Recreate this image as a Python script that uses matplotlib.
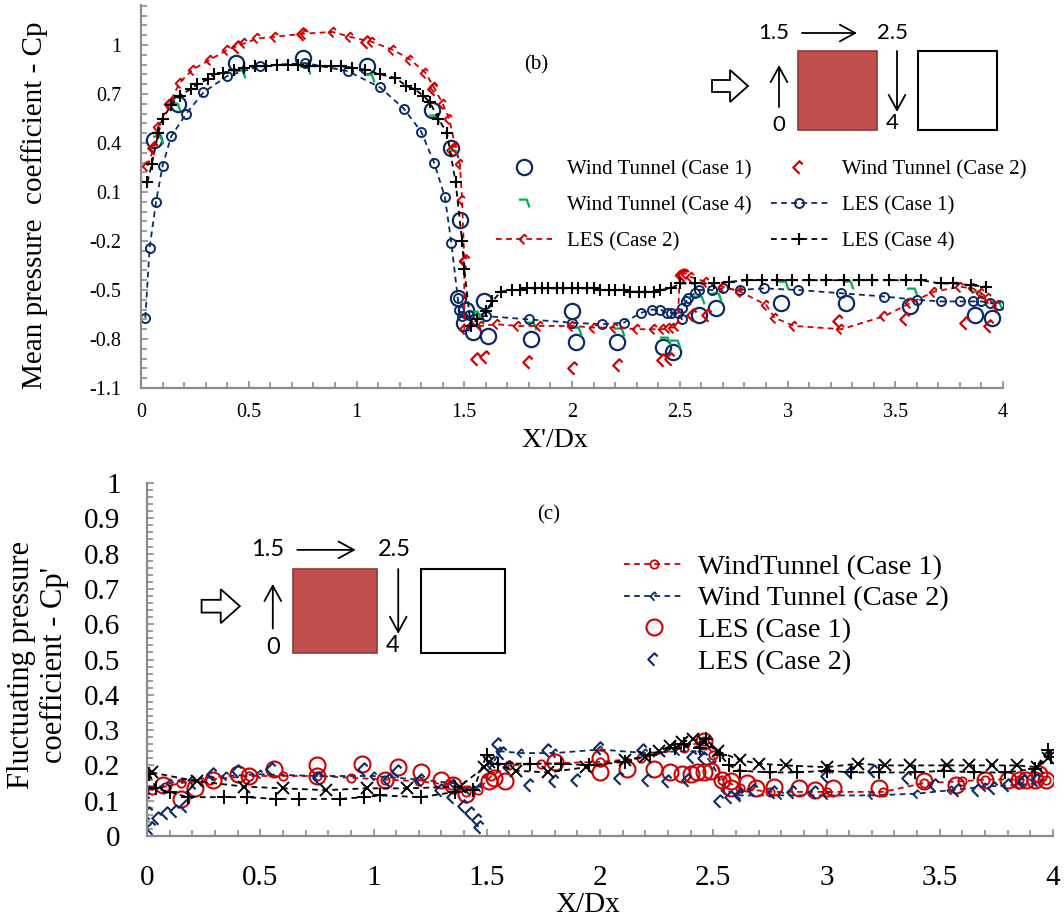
import numpy as np
import matplotlib.pyplot as plt
from matplotlib.path import Path
from matplotlib.transforms import Affine2D
from matplotlib.patches import Rectangle, Polygon, FancyArrowPatch
from matplotlib.ticker import FixedLocator, MultipleLocator, FuncFormatter

plt.rcParams['font.family'] = ['Liberation Serif', 'DejaVu Serif']
plt.rcParams['axes.unicode_minus'] = False

# ---- (b) mean Cp ----
wt1_x = [0.06, 0.17, 0.44, 0.75, 1.05, 1.35, 1.44, 1.47, 1.48, 1.50, 1.51, 1.54, 1.59, 1.61, 1.81,
         2.00, 2.02, 2.21, 2.42, 2.47, 2.59, 2.67, 2.97, 3.27, 3.57, 3.87, 3.95]
wt1_y = [0.42, 0.64, 0.89, 0.92, 0.87, 0.60, 0.37, -0.55, -0.07, -0.70, -0.62, -0.76, -0.57, -0.78, -0.80,
         -0.63, -0.82, -0.82, -0.85, -0.88, -0.65, -0.61, -0.58, -0.58, -0.60, -0.65, -0.67]

wt2_x = [0.06, 0.14, 0.45, 0.75, 1.05, 1.36, 1.45, 1.51, 1.56, 1.60, 1.80, 2.01, 2.22, 2.42, 2.46,
         2.52, 2.56, 2.63, 3.24, 3.55, 3.83, 3.94]
wt2_y = [0.37, 0.64, 0.99, 1.07, 1.02, 0.73, 0.36, -0.32, -0.92, -0.91, -0.94, -0.98, -0.96, -0.93, -0.92,
         -0.41, -0.65, -0.65, -0.69, -0.68, -0.70, -0.72]

wt4_x = [0.08, 0.16, 0.46, 0.76, 1.06, 1.36, 1.45, 1.55, 1.57, 1.81, 2.02, 2.22, 2.43, 2.48, 2.59,
         2.67, 2.98, 3.28, 3.58, 3.88, 3.97]
wt4_y = [0.42, 0.62, 0.82, 0.85, 0.80, 0.55, 0.33, -0.65, -0.67, -0.72, -0.75, -0.76, -0.81, -0.83, -0.56,
         -0.54, -0.47, -0.47, -0.51, -0.53, -0.60]

les1_x = [0.02, 0.04, 0.07, 0.10, 0.14, 0.21, 0.29, 0.40, 0.55, 0.76, 0.96, 1.11, 1.22, 1.30, 1.36,
          1.41, 1.44, 1.47, 1.475, 1.49, 1.52, 1.60, 1.80, 2.00, 2.14, 2.24, 2.32, 2.37, 2.41, 2.44,
          2.46, 2.49, 2.51, 2.51, 2.53, 2.54, 2.57, 2.59, 2.65, 2.70, 2.78, 2.89, 3.05, 3.25, 3.45,
          3.60, 3.71, 3.80, 3.86, 3.90, 3.94, 3.98]
les1_y = [-0.67, -0.24, 0.04, 0.26, 0.44, 0.58, 0.71, 0.81, 0.87, 0.89, 0.84, 0.74, 0.61, 0.47, 0.28,
          0.07, -0.21, -0.55, -0.62, -0.66, -0.65, -0.66, -0.68, -0.70, -0.71, -0.70, -0.64, -0.62, -0.62, -0.64,
          -0.64, -0.64, -0.68, -0.61, -0.57, -0.55, -0.52, -0.50, -0.50, -0.49, -0.50, -0.49, -0.50, -0.52, -0.54,
          -0.56, -0.57, -0.57, -0.57, -0.57, -0.58, -0.59]

les2_x = [0.03, 0.06, 0.08, 0.13, 0.18, 0.24, 0.32, 0.40, 0.48, 0.54, 0.62, 0.76, 0.89, 0.97, 1.07,
          1.17, 1.25, 1.32, 1.36, 1.40, 1.43, 1.46, 1.48, 1.49, 1.50, 1.50, 1.53, 1.58, 1.65, 1.75,
          1.85, 2.00, 2.10, 2.20, 2.30, 2.38, 2.42, 2.45, 2.47, 2.49, 2.50, 2.51, 2.53, 2.55, 2.62,
          2.70, 2.78, 2.90, 2.94, 3.03, 3.25, 3.45, 3.57, 3.68, 3.80, 3.86, 3.90, 3.93, 3.97]
les2_y = [0.26, 0.37, 0.50, 0.64, 0.77, 0.85, 0.91, 0.97, 1.01, 1.04, 1.05, 1.07, 1.08, 1.05, 1.02,
          0.97, 0.91, 0.83, 0.74, 0.64, 0.55, 0.37, 0.27, 0.05, -0.32, -0.74, -0.72, -0.72, -0.71, -0.72,
          -0.72, -0.72, -0.73, -0.73, -0.74, -0.74, -0.74, -0.73, -0.73, -0.72, -0.41, -0.40, -0.40, -0.42, -0.45,
          -0.48, -0.51, -0.59, -0.67, -0.72, -0.74, -0.66, -0.58, -0.51, -0.48, -0.49, -0.52, -0.55, -0.60]

les4_x = [0.03, 0.05, 0.08, 0.10, 0.14, 0.18, 0.23, 0.26, 0.31, 0.34, 0.38, 0.43, 0.48, 0.53, 0.58,
          0.63, 0.68, 0.73, 0.78, 0.83, 0.88, 0.93, 0.98, 1.04, 1.11, 1.18, 1.23, 1.27, 1.31, 1.34,
          1.38, 1.42, 1.46, 1.49, 1.50, 1.53, 1.56, 1.60, 1.63, 1.67, 1.72, 1.76, 1.79, 1.83, 1.86,
          1.89, 1.93, 1.96, 2.00, 2.03, 2.07, 2.10, 2.13, 2.17, 2.20, 2.24, 2.27, 2.31, 2.34, 2.38,
          2.41, 2.46, 2.50, 2.57, 2.66, 2.73, 2.81, 2.88, 2.95, 3.02, 3.10, 3.18, 3.26, 3.33, 3.39,
          3.47, 3.55, 3.62, 3.71, 3.77, 3.85, 3.92]
les4_y = [0.16, 0.27, 0.46, 0.55, 0.63, 0.69, 0.73, 0.76, 0.79, 0.82, 0.83, 0.85, 0.86, 0.87, 0.87,
          0.88, 0.88, 0.88, 0.87, 0.87, 0.87, 0.87, 0.86, 0.85, 0.82, 0.80, 0.75, 0.73, 0.69, 0.65,
          0.55, 0.46, 0.16, -0.20, -0.37, -0.72, -0.68, -0.63, -0.57, -0.51, -0.50, -0.50, -0.49, -0.49, -0.49,
          -0.49, -0.49, -0.49, -0.49, -0.49, -0.49, -0.49, -0.50, -0.50, -0.50, -0.50, -0.51, -0.51, -0.51, -0.51,
          -0.50, -0.49, -0.46, -0.46, -0.46, -0.45, -0.44, -0.44, -0.44, -0.44, -0.44, -0.44, -0.44, -0.44, -0.44,
          -0.44, -0.44, -0.44, -0.46, -0.46, -0.47, -0.48]

# ---- (c) fluctuating Cp' ----
wtc1_x = [0.02, 0.08, 0.15, 0.28, 0.45, 0.60, 0.75, 0.90, 1.05, 1.20, 1.34, 1.41, 1.46, 1.52, 1.60,
          1.74, 2.00, 2.18, 2.37, 2.46, 2.50, 2.54, 2.62, 2.75, 3.00, 3.25, 3.43, 3.60, 3.70, 3.85, 3.97]
wtc1_y = [0.13, 0.14, 0.15, 0.16, 0.17, 0.17, 0.17, 0.165, 0.16, 0.155, 0.145, 0.125, 0.13, 0.17, 0.20,
          0.205, 0.21, 0.22, 0.25, 0.27, 0.23, 0.16, 0.135, 0.125, 0.125, 0.125, 0.15, 0.155, 0.16, 0.16, 0.16]

wtc2_x = [0.01, 0.10, 0.20, 0.35, 0.50, 0.75, 1.00, 1.20, 1.35, 1.42, 1.47, 1.52, 1.56, 1.65, 1.80,
          2.00, 2.20, 2.35, 2.45, 2.50, 2.55, 2.62, 2.80, 3.00, 3.20, 3.40, 3.55, 3.70, 3.85, 3.95]
wtc2_y = [0.13, 0.15, 0.16, 0.17, 0.175, 0.17, 0.17, 0.16, 0.15, 0.13, 0.14, 0.20, 0.24, 0.235, 0.235,
          0.245, 0.235, 0.24, 0.24, 0.20, 0.13, 0.115, 0.115, 0.115, 0.115, 0.12, 0.13, 0.14, 0.145, 0.15]

lesc1_x = [0.07, 0.15, 0.21, 0.29, 0.40, 0.45, 0.56, 0.75, 0.75, 0.95, 1.05, 1.11, 1.21, 1.30, 1.35,
           1.41, 1.51, 1.53, 1.58, 1.80, 2.00, 2.00, 2.12, 2.24, 2.31, 2.36, 2.40, 2.43, 2.46, 2.49,
           2.46, 2.54, 2.58, 2.58, 2.65, 2.69, 2.77, 2.88, 2.95, 3.03, 3.23, 3.43, 3.57, 3.70, 3.80,
           3.85, 3.88, 3.92, 3.94, 3.97]
lesc1_y = [0.145, 0.105, 0.135, 0.16, 0.175, 0.17, 0.19, 0.20, 0.17, 0.205, 0.16, 0.195, 0.18, 0.16, 0.145,
           0.12, 0.155, 0.165, 0.155, 0.21, 0.22, 0.18, 0.19, 0.19, 0.18, 0.175, 0.175, 0.18, 0.18, 0.185,
           0.27, 0.16, 0.155, 0.135, 0.15, 0.135, 0.14, 0.135, 0.13, 0.135, 0.135, 0.155, 0.145, 0.16, 0.16,
           0.16, 0.16, 0.16, 0.175, 0.16]

lesc2_x = [0.01, 0.01, 0.02, 0.05, 0.09, 0.13, 0.17, 0.20, 0.29, 0.40, 0.55, 0.76, 0.96, 1.07, 1.11,
           1.21, 1.30, 1.35, 1.40, 1.43, 1.46, 1.47, 1.55, 1.57, 1.60, 1.69, 1.77, 1.80, 1.90, 2.00,
           2.09, 2.19, 2.21, 2.30, 2.39, 2.41, 2.46, 2.53, 2.58, 2.62, 2.68, 2.77, 2.85, 2.95, 3.00,
           3.11, 3.21, 3.36, 3.48, 3.58, 3.67, 3.74, 3.80, 3.87, 3.93]
lesc2_y = [0.125, 0.065, 0.022, 0.05, 0.065, 0.07, 0.085, 0.125, 0.175, 0.185, 0.19, 0.165, 0.19, 0.16, 0.185,
           0.16, 0.13, 0.11, 0.085, 0.065, 0.045, 0.025, 0.26, 0.235, 0.195, 0.145, 0.245, 0.155, 0.16, 0.25,
           0.165, 0.245, 0.16, 0.155, 0.16, 0.225, 0.22, 0.10, 0.11, 0.115, 0.13, 0.125, 0.125, 0.125, 0.17,
           0.18, 0.185, 0.165, 0.145, 0.13, 0.13, 0.135, 0.145, 0.155, 0.16]

plus_x = [0.01, 0.04, 0.10, 0.18, 0.34, 0.44, 0.57, 0.67, 0.85, 0.96, 1.03, 1.21, 1.36, 1.44, 1.50,
          1.55, 1.69, 1.83, 1.95, 2.11, 2.22, 2.33, 2.37, 2.44, 2.47, 2.53, 2.57, 2.62, 2.75, 2.87,
          3.00, 3.11, 3.23, 3.39, 3.52, 3.65, 3.79, 3.92, 3.98, 3.99]
plus_y = [0.175, 0.135, 0.125, 0.11, 0.11, 0.11, 0.105, 0.105, 0.105, 0.11, 0.115, 0.11, 0.125, 0.13, 0.23,
          0.205, 0.205, 0.205, 0.20, 0.21, 0.23, 0.25, 0.26, 0.25, 0.275, 0.23, 0.20, 0.185, 0.18, 0.18,
          0.185, 0.18, 0.18, 0.18, 0.185, 0.18, 0.18, 0.19, 0.245, 0.225]

cross_x = [0.02, 0.22, 0.43, 0.60, 0.79, 0.97, 1.15, 1.38, 1.49, 1.51, 1.63, 1.77, 1.94, 2.11, 2.20,
           2.26, 2.31, 2.36, 2.41, 2.46, 2.52, 2.62, 2.70, 2.82, 3.00, 3.14, 3.26, 3.37, 3.53, 3.63,
           3.73, 3.84, 3.93, 3.98]
cross_y = [0.18, 0.155, 0.14, 0.135, 0.13, 0.135, 0.135, 0.14, 0.195, 0.21, 0.185, 0.18, 0.195, 0.215, 0.225,
           0.24, 0.255, 0.265, 0.275, 0.265, 0.24, 0.215, 0.205, 0.20, 0.195, 0.205, 0.20, 0.20, 0.20, 0.20,
           0.20, 0.20, 0.195, 0.22]

cp_ticks = [-1.1, -0.8, -0.5, -0.2, 0.1, 0.4, 0.7, 1.0]
x_ticks = [0, 0.5, 1, 1.5, 2, 2.5, 3, 3.5, 4]
cpf_ticks = [0, 0.1, 0.2, 0.3, 0.4, 0.5, 0.6, 0.7, 0.8, 0.9, 1.0]

W, H = 1064, 919
NAVY = '#0A2A6B'
RED = '#D00000'
GREEN = '#00B050'
GRAY = '#8C8C8C'
DASH = (0, (3.2, 2.4))

hook = Path([(-1, -1), (-1, 1), (1, 1), (1, 0)],
            [Path.MOVETO, Path.LINETO, Path.LINETO, Path.LINETO]).transformed(Affine2D().rotate_deg(45))
gmark = Path([(-1, 0.7), (0.4, 0.7), (0.9, -0.7)], [Path.MOVETO, Path.LINETO, Path.LINETO])


def rect(l, t, r, b):
    return [l / W, 1 - b / H, (r - l) / W, (b - t) / H]


def fmt(v, pos):
    return '%g' % v


def style(ax, fs, ypad, xpad):
    for s in ['top', 'right']:
        ax.spines[s].set_visible(False)
    for s in ['left', 'bottom']:
        ax.spines[s].set_color(GRAY)
        ax.spines[s].set_linewidth(1.6)
    ax.tick_params(which='both', direction='in', color=GRAY, width=1.2)
    ax.tick_params(which='major', length=5)
    ax.tick_params(which='minor', length=4)
    ax.tick_params(axis='y', labelsize=fs[0], pad=ypad)
    ax.tick_params(axis='x', labelsize=fs[1], pad=xpad)
    ax.xaxis.set_major_formatter(FuncFormatter(fmt))
    ax.yaxis.set_major_formatter(FuncFormatter(fmt))


fig = plt.figure(figsize=(W / 100, H / 100), dpi=100)

# ---------- panel (b) ----------
ax1 = fig.add_axes(rect(141, 5, 1003, 388))
mk = dict(ls='none', mfc='none')
ax1.plot(wt1_x, wt1_y, marker='o', ms=11, mec=NAVY, mew=1.6, label='Wind Tunnel (Case 1)', **mk)
ax1.plot(wt2_x, wt2_y, marker=hook, ms=9, mec=RED, mew=1.6, label='Wind Tunnel (Case 2)', **mk)
ax1.plot(wt4_x, wt4_y, marker=gmark, ms=8, mec=GREEN, mew=1.6, label='Wind Tunnel (Case 4)', **mk)
ax1.plot(les1_x, les1_y, color=NAVY, ls=DASH, lw=1.3, marker='o', ms=6.5, mfc='none', mec=NAVY, mew=1.4,
         label='LES (Case 1)')
ax1.plot(les2_x, les2_y, color=RED, ls=DASH, lw=1.3, marker=hook, ms=7, mfc='none', mec=RED, mew=1.4,
         label='LES (Case 2)')
ax1.plot(les4_x, les4_y, color='black', ls=DASH, lw=1.3, marker='+', ms=9, mew=1.5,
         label='LES (Case 4)')
ax1.set_xlim(0, 4)
ax1.set_ylim(-1.1, 1.245)
ax1.set_xticks(x_ticks)
ax1.yaxis.set_major_locator(FixedLocator(cp_ticks))
ax1.yaxis.set_minor_locator(FixedLocator(np.arange(-1.1, 1.25, 0.06)))
ax1.xaxis.set_minor_locator(MultipleLocator(0.1))
style(ax1, (14.5, 14.5), 14, 11)
ax1.text(0.458, 0.843, '(b)', transform=ax1.transAxes, fontsize=15, ha='center', va='center')

h, l = ax1.get_legend_handles_labels()
order = [0, 2, 4, 1, 3, 5]
fig.legend([h[i] for i in order], [l[i] for i in order], ncol=2, loc='upper left',
           bbox_to_anchor=(496 / W, 1 - 160 / H), frameon=False, fontsize=15,
           handlelength=2.7, handletextpad=0.7, columnspacing=0.95, labelspacing=0.78,
           borderpad=0, borderaxespad=0)

fig.text(35 / W, 1 - 205 / H, 'Mean pressure  coefficient - Cp', rotation=90, fontsize=21,
         ha='center', va='center')
fig.text(555 / W, 1 - 440 / H, "X'/Dx", fontsize=20, ha='center', va='center')

# ---------- panel (c) ----------
ax2 = fig.add_axes(rect(147, 483, 1053, 836))
ax2.plot(wtc1_x, wtc1_y, color=RED, ls=DASH, lw=1.3, marker='o', ms=6, mfc='none', mec=RED, mew=1.3,
         label='WindTunnel (Case 1)')
ax2.plot(wtc2_x, wtc2_y, color=NAVY, ls=DASH, lw=1.3, marker=hook, ms=6, mfc='none', mec=NAVY, mew=1.3,
         label='Wind Tunnel (Case 2)')
ax2.plot(lesc1_x, lesc1_y, marker='o', ms=11.5, mec=RED, mew=1.5, label='LES (Case 1)', **mk)
ax2.plot(lesc2_x, lesc2_y, marker=hook, ms=9, mec=NAVY, mew=1.5, label='LES (Case 2)', **mk)
ax2.plot(plus_x, plus_y, color='black', ls=DASH, lw=1.3, marker='+', ms=10, mew=1.4)
ax2.plot(cross_x, cross_y, color='black', ls=DASH, lw=1.3, marker='x', ms=8, mew=1.4)
ax2.set_xlim(0, 4)
ax2.set_ylim(0, 1)
ax2.set_xticks(x_ticks)
ax2.set_yticks(cpf_ticks)
ax2.yaxis.set_minor_locator(MultipleLocator(0.02))
ax2.xaxis.set_minor_locator(MultipleLocator(0.1))
style(ax2, (21, 21), 19, 21)
ax2.text(0.443, 0.91, '(c)', transform=ax2.transAxes, fontsize=15, ha='center', va='center')
ax2.legend(loc='upper left', bbox_to_anchor=(624 / W, 1 - 554 / H), bbox_transform=fig.transFigure,
           frameon=False, fontsize=20.5, handlelength=2.1, handletextpad=0.5, labelspacing=0.2,
           borderpad=0, borderaxespad=0)

fig.text(38 / W, 1 - 665 / H, "Fluctuating pressure\ncoefficient - Cp'", rotation=90, fontsize=22,
         ha='center', va='center', linespacing=1.2, multialignment='center')
fig.text(588 / W, 1 - 905 / H, 'X/Dx', fontsize=21, ha='center', va='center')

# ---------- building sketches ----------
ov = fig.add_axes([0, 0, 1, 1])
ov.set_xlim(0, W)
ov.set_ylim(H, 0)
ov.axis('off')


def sketch(ox, oy, k, fs):
    def p(x, y):
        return ox + x * k, oy + y * k
    ov.add_patch(Rectangle(p(0, 0), 79 * k, 79 * k, fc='#C0504D', ec='#8C3A38', lw=1.2))
    ov.add_patch(Rectangle(p(120, 0), 79 * k, 79 * k, fc='white', ec='black', lw=1.5))
    ba = [p(-86, 29), p(-68, 29), p(-68, 19), p(-50, 35), p(-68, 51), p(-68, 41), p(-86, 41)]
    ov.add_patch(Polygon(ba, closed=True, fc='white', ec='black', lw=1.3))
    st = '->,head_length=0.55,head_width=0.3'
    for a, b in [((-19, 56), (-19, 14)), ((4, -18), (59, -18)), ((99, 0), (99, 61))]:
        ov.add_patch(FancyArrowPatch(p(*a), p(*b), arrowstyle=st, mutation_scale=20,
                                     color='black', lw=1.3, shrinkA=0, shrinkB=0))
    tk = dict(fontsize=fs, family=['Lato', 'DejaVu Sans'], ha='center', va='center')
    ov.text(*p(-24, -18), '1.5', **tk)
    ov.text(*p(95, -18), '2.5', **tk)
    ov.text(*p(-19, 74), '0', **tk)
    ov.text(*p(94, 72), '4', **tk)


sketch(798, 51, 1.0, 16)
sketch(293, 569, 1.063, 17)

fig.savefig('out.png', dpi=100)
